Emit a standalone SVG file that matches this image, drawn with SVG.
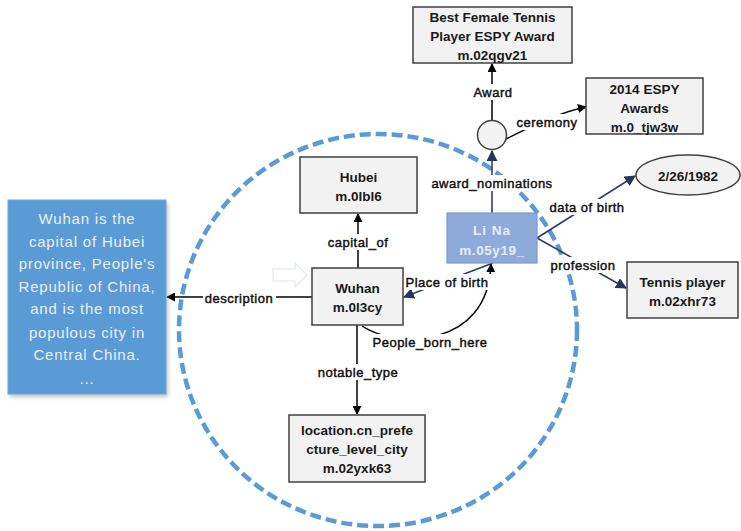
<svg xmlns="http://www.w3.org/2000/svg" width="741" height="531" viewBox="0 0 741 531">
<defs>
<style>
text{font-family:"Liberation Sans",Arial,sans-serif}
.nt{font-size:13.5px;font-weight:bold;fill:#1a1a1a;text-anchor:middle}
.lb{font-size:13px;fill:#111;text-anchor:middle;letter-spacing:0.5px;stroke:#111;stroke-width:0.45px}
.lbg{fill:#fff}
.box{fill:#f2f2f2;stroke:#404040;stroke-width:1.5}
.k{stroke:#000;stroke-width:1.5;fill:none}
.nv{stroke:#2a3f6b;stroke-width:1.6;fill:none}
.dt{font-size:15px;fill:#e9eff8;text-anchor:middle;letter-spacing:0.8px}
</style>
<filter id="sh" x="-10%" y="-10%" width="130%" height="130%"><feGaussianBlur stdDeviation="2"/></filter>
<marker id="ak" viewBox="0 0 10 10" refX="9" refY="5" markerWidth="9" markerHeight="9" markerUnits="userSpaceOnUse" orient="auto"><path d="M0,0 L10,5 L0,10 z" fill="#000"/></marker>
<marker id="an" viewBox="0 0 10 10" refX="9" refY="5" markerWidth="11" markerHeight="11" markerUnits="userSpaceOnUse" orient="auto"><path d="M0,0 L10,5 L0,10 z" fill="#22375f"/></marker>
</defs>
<rect width="741" height="531" fill="#fff"/>
<ellipse cx="378" cy="330" rx="199" ry="196" fill="none" stroke="#5b9bd5" stroke-width="4.5" stroke-dasharray="11 5"/>
<polygon points="273,269 295,269 295,263 307,275 295,287 295,281 273,281" fill="#fff" stroke="#dfe7f1" stroke-width="1.2"/>
<g id="connectors">
<line class="k" x1="492" y1="121" x2="492" y2="64" marker-end="url(#ak)"/>
<path class="k" d="M506 139 C530 127 560 112 586 107" marker-end="url(#ak)"/>
<line class="nv" x1="492" y1="213" x2="492" y2="151" marker-end="url(#an)"/>
<line class="k" x1="358" y1="268" x2="358" y2="214" marker-end="url(#ak)"/>
<line class="nv" x1="493" y1="263" x2="404" y2="297" marker-end="url(#an)"/>
<path class="k" d="M362 326 C395 348 488 350 491 264" marker-end="url(#ak)"/>
<line class="k" x1="357" y1="325" x2="357" y2="414" marker-end="url(#ak)"/>
<line class="k" x1="312" y1="297" x2="167" y2="297" marker-end="url(#ak)"/>
<line class="nv" x1="537" y1="238" x2="635" y2="176" marker-end="url(#an)"/>
<line class="nv" x1="537" y1="238" x2="626" y2="288" marker-end="url(#an)"/>
<rect class="lbg" x="470" y="84" width="45" height="16"/><text class="lb" x="493" y="97">Award</text>
<rect class="lbg" x="516" y="114" width="64" height="16"/><text class="lb" x="547" y="127">ceremony</text>
<rect class="lbg" x="428" y="175" width="129" height="16"/><text class="lb" x="492" y="188">award_nominations</text>
<rect class="lbg" x="325" y="234" width="66" height="16"/><text class="lb" x="358" y="247">capital_of</text>
<rect class="lbg" x="405" y="274" width="86" height="16"/><text class="lb" x="447" y="287">Place of birth</text>
<rect class="lbg" x="369" y="334" width="122" height="16"/><text class="lb" x="430" y="347">People_born_here</text>
<rect class="lbg" x="315" y="364" width="86" height="16"/><text class="lb" x="358" y="377">notable_type</text>
<rect class="lbg" x="203" y="290" width="73" height="16"/><text class="lb" x="239" y="303">description</text>
<rect class="lbg" x="547" y="199" width="80" height="16"/><text class="lb" x="587" y="212">data of birth</text>
<rect class="lbg" x="548" y="257" width="70" height="16"/><text class="lb" x="583" y="270">profession</text>
</g>
<g id="n_award_node"><circle cx="492" cy="135" r="14.5" fill="#f2f2f2" stroke="#404040" stroke-width="1.5"/></g>
<g id="n_best_female">
<rect class="box" x="413" y="7" width="159" height="56"/>
<text class="nt" x="492.5" y="22">Best Female Tennis</text>
<text class="nt" x="492.5" y="41">Player ESPY  Award</text>
<text class="nt" x="492.5" y="60">m.02qgv21</text>
</g>
<g id="n_espy2014">
<rect class="box" x="586" y="78" width="117" height="56"/>
<text class="nt" x="644.5" y="94">2014 ESPY</text>
<text class="nt" x="644.5" y="113">Awards</text>
<text class="nt" x="644.5" y="132">m.0_tjw3w</text>
</g>
<g id="n_hubei">
<rect class="box" x="300" y="157" width="117" height="56"/>
<text class="nt" x="358.5" y="182">Hubei</text>
<text class="nt" x="358.5" y="201">m.0lbl6</text>
</g>
<g id="n_wuhan">
<rect class="box" x="312" y="268" width="91" height="57"/>
<text class="nt" x="357.5" y="293">Wuhan</text>
<text class="nt" x="357.5" y="312">m.0l3cy</text>
</g>
<g id="n_lina">
<rect x="447" y="213" width="90" height="50" fill="#8eaadb" stroke="#7d98c9" stroke-width="1.2"/>
<text class="nt" x="492" y="235" style="fill:#e8eef8;letter-spacing:1px">Li Na</text>
<text class="nt" x="492" y="255" style="fill:#e8eef8;letter-spacing:0.6px">m.05y19_</text>
</g>
<g id="n_location">
<rect class="box" x="289" y="415" width="136" height="67"/>
<text class="nt" x="357" y="435">location.cn_prefe</text>
<text class="nt" x="357" y="454">cture_level_city</text>
<text class="nt" x="357" y="473">m.02yxk63</text>
</g>
<g id="n_tennis">
<rect class="box" x="627" y="262" width="111" height="56"/>
<text class="nt" x="682.5" y="287">Tennis player</text>
<text class="nt" x="682.5" y="306">m.02xhr73</text>
</g>
<g id="n_dob">
<ellipse cx="688" cy="175" rx="52" ry="20" fill="#f2f2f2" stroke="#404040" stroke-width="1.5"/>
<text class="nt" x="688" y="181">2/26/1982</text>
</g>
<g id="n_description">
<rect x="10" y="203" width="158" height="194" fill="#9a9a9a" opacity="0.6" filter="url(#sh)"/>
<rect x="8" y="200" width="158" height="194" fill="#5b9bd5" stroke="#6fa6da" stroke-width="1"/>
<text class="dt" x="87" y="224">Wuhan is the</text>
<text class="dt" x="87" y="247">capital of Hubei</text>
<text class="dt" x="87" y="269">province, People's</text>
<text class="dt" x="87" y="292">Republic of China,</text>
<text class="dt" x="87" y="314">and is the most</text>
<text class="dt" x="87" y="338">populous city in</text>
<text class="dt" x="87" y="360">Central China.</text>
<text class="dt" x="87" y="384">...</text>
</g>
</svg>
